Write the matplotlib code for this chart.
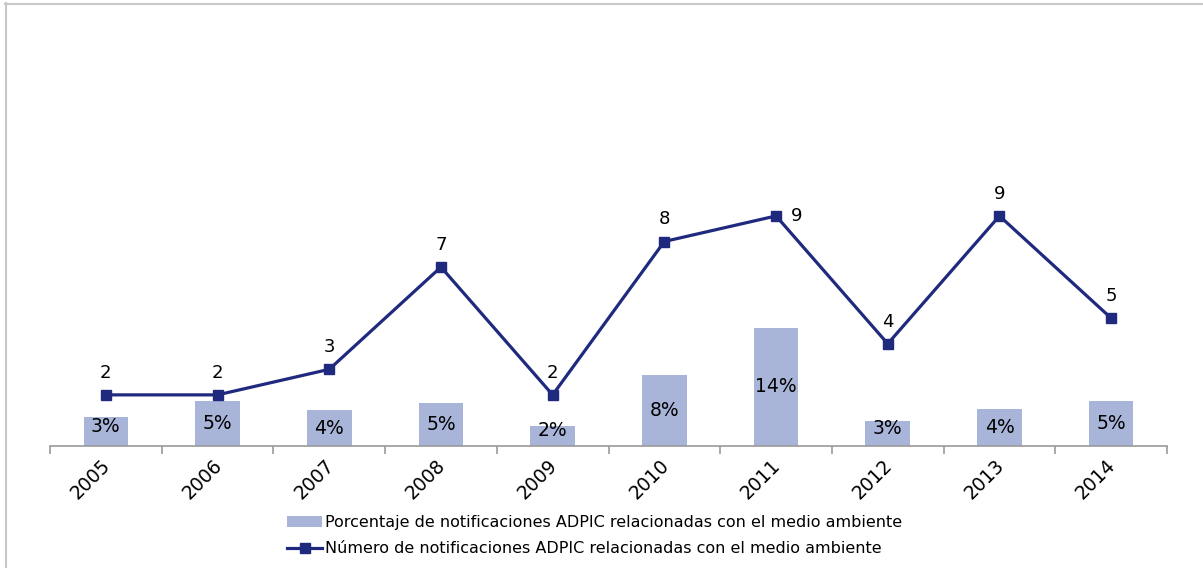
import matplotlib.pyplot as plt
import matplotlib.transforms as mtransforms
from matplotlib.lines import Line2D
from matplotlib.patches import Patch

plt.rcParams["font.family"] = ["DejaVu Sans"]

years = ["2005", "2006", "2007", "2008", "2009", "2010", "2011", "2012", "2013", "2014"]
pct = [3.4, 5.3, 4.2, 5.1, 2.4, 8.3, 13.9, 2.9, 4.4, 5.3]
pct_labels = ["3%", "5%", "4%", "5%", "2%", "8%", "14%", "3%", "4%", "5%"]
counts = [2, 2, 3, 7, 2, 8, 9, 4, 9, 5]

bar_color = "#A9B4D9"
line_color = "#1F2A7F"

fig = plt.figure(figsize=(12.03, 5.68), dpi=100)
ax = fig.add_axes([50 / 1203, 1 - 446 / 568, 1117 / 1203, 409 / 568])
x = range(len(years))

ax.bar(x, pct, width=0.4, color=bar_color, zorder=1)
ax.set_ylim(0, 48)
ax.set_xlim(-0.5, len(years) - 0.5)
for i, (v, lab) in enumerate(zip(pct, pct_labels)):
    # very short bars: label sits a little above the bar centre
    dy = 3.5 if v < 4 else 0
    ax.annotate(lab, (i, v / 2), xytext=(0, dy), textcoords="offset points",
                ha="center", va="center", fontsize=13.5, color="black")

ax2 = ax.twinx()
ax2.plot(x, counts, color=line_color, lw=2.3, marker="s", ms=7, zorder=3)
ax2.set_ylim(0, 16)
for i, v in enumerate(counts):
    if i == 6:
        ax2.annotate(str(v), (i, v), xytext=(15, 0), textcoords="offset points",
                     ha="center", va="center", fontsize=13)
    else:
        ax2.annotate(str(v), (i, v), xytext=(0, 16), textcoords="offset points",
                     ha="center", va="center", fontsize=13)

for a in (ax, ax2):
    for s in ("top", "right", "left"):
        a.spines[s].set_visible(False)
    a.set_yticks([])
ax2.spines["bottom"].set_visible(False)
ax.spines["bottom"].set_color("#999999")
ax.spines["bottom"].set_linewidth(1.2)

ax.set_xticks(list(x))
ax.set_xticklabels(years, rotation=45, ha="right", va="top",
                   rotation_mode="anchor", fontsize=13.5)
ax.tick_params(axis="x", which="major", length=0, pad=7)
shift = mtransforms.ScaledTranslation(-5 / 100, 0, fig.dpi_scale_trans)
for lbl in ax.get_xticklabels():
    lbl.set_transform(lbl.get_transform() + shift)
ax.set_xticks([i - 0.5 for i in range(len(years) + 1)], minor=True)
ax.tick_params(axis="x", which="minor", length=6, color="#999999", width=1.2)

handles = [
    Patch(facecolor=bar_color, edgecolor="none"),
    Line2D([], [], color=line_color, lw=2.3, marker="s", ms=7),
]
labels = [
    "Porcentaje de notificaciones ADPIC relacionadas con el medio ambiente",
    "Número de notificaciones ADPIC relacionadas con el medio ambiente",
]
fig.legend(handles, labels, loc="center left", bbox_to_anchor=(287 / 1203, 1 - 535.5 / 568),
           frameon=False, fontsize=11.5, handlelength=2.2, handletextpad=0.15,
           labelspacing=0.72, borderaxespad=0, borderpad=0)

# chart frame (top and left edges only visible)
fig.add_artist(Line2D([5 / 1203, 1], [1 - 3.5 / 568, 1 - 3.5 / 568], color="#C8C8C8", lw=1.5))
fig.add_artist(Line2D([5.5 / 1203, 5.5 / 1203], [0, 1 - 3 / 568], color="#C8C8C8", lw=1.5))

fig.savefig("out.png", dpi=100)
